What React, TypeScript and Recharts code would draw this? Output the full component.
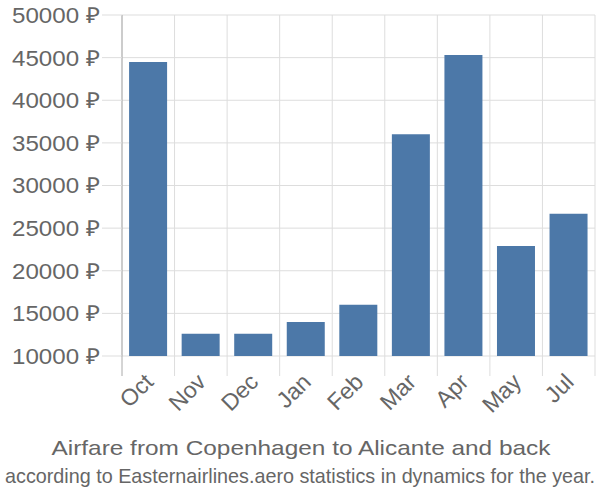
import { BarChart, Bar, XAxis, YAxis, CartesianGrid } from "recharts";

const months = ["Oct", "Nov", "Dec", "Jan", "Feb", "Mar", "Apr", "May", "Jul"];
const prices = [44500, 12600, 12600, 14000, 16000, 36000, 45300, 22900, 26700];
const yTicks = [10000, 15000, 20000, 25000, 30000, 35000, 40000, 45000, 50000];

const TITLE = "Airfare from Copenhagen to Alicante and back";
const SUBTITLE = "according to Easternairlines.aero statistics in dynamics for the year.";

const W = 600;
const H = 500;
const MARGIN = { top: 15, right: 5, left: 0, bottom: 0 };
const Y_WIDTH = 122;
const PLOT_W = W - Y_WIDTH - MARGIN.right;
const BAND = PLOT_W / months.length;

const TEXT = "#666";
const GRID = "#ddd";
const FONT = "'Liberation Sans', Arial, sans-serif";

const data = months.map((m, i) => ({ month: m, price: prices[i] }));

function YTick({ x, y, payload }: any) {
  return (
    <text
      x={x}
      y={y}
      dy="0.36em"
      textAnchor="end"
      fill={TEXT}
      fontSize={22}
      fontFamily={FONT}
      textLength={88}
      lengthAdjust="spacingAndGlyphs"
    >
      {payload.value} ₽
    </text>
  );
}

function XTick({ x, y, payload, index }: any) {
  const top = y;
  const isLast = index === months.length - 1;
  const tx = x - 5;
  const ty = top + 16;
  return (
    <g>
      <line x1={x - BAND / 2} x2={x - BAND / 2} y1={top} y2={top + 20} stroke={index === 0 ? "#aaa" : GRID} />
      {isLast && <line x1={x + BAND / 2} x2={x + BAND / 2} y1={top} y2={top + 20} stroke={GRID} />}
      <text
        x={tx}
        y={ty}
        textAnchor="end"
        dy="0.7em"
        fill={TEXT}
        fontSize={23}
        fontFamily={FONT}
        transform={`rotate(-45, ${tx}, ${ty})`}
      >
        {payload.value}
      </text>
    </g>
  );
}

export default function App() {
  return (
    <div style={{ position: "absolute", left: 0, top: 0, width: W, height: H, background: "#fff" }}>
      <BarChart width={W} height={H} data={data} margin={MARGIN} barCategoryGap="13.5%">
        <CartesianGrid
          stroke={GRID}
          verticalCoordinatesGenerator={({ offset }: any) =>
            months.map((_, i) => offset.left + i * BAND).concat(offset.left + PLOT_W)
          }
        />
        <XAxis
          dataKey="month"
          axisLine={false}
          tickLine={false}
          tickSize={0}
          tickMargin={0}
          height={144}
          interval={0}
          tick={<XTick />}
        />
        <YAxis
          width={Y_WIDTH}
          domain={[10000, 50000]}
          ticks={yTicks}
          interval={0}
          allowDataOverflow
          axisLine={{ stroke: "#aaa" }}
          tickLine={{ stroke: GRID }}
          tickSize={20}
          tickMargin={2}
          tick={<YTick />}
        />
        <Bar dataKey="price" fill="#4c78a8" isAnimationActive={false} />
      </BarChart>
      <svg width={W} height={H} style={{ position: "absolute", left: 0, top: 0, pointerEvents: "none" }}>
        <text
          x={301}
          y={455}
          textAnchor="middle"
          fill={TEXT}
          fontSize={21}
          fontFamily={FONT}
          textLength={499}
          lengthAdjust="spacingAndGlyphs"
        >
          {TITLE}
        </text>
        <text
          x={300}
          y={483}
          textAnchor="middle"
          fill={TEXT}
          fontSize={21}
          fontFamily={FONT}
          textLength={590}
          lengthAdjust="spacingAndGlyphs"
        >
          {SUBTITLE}
        </text>
      </svg>
    </div>
  );
}
